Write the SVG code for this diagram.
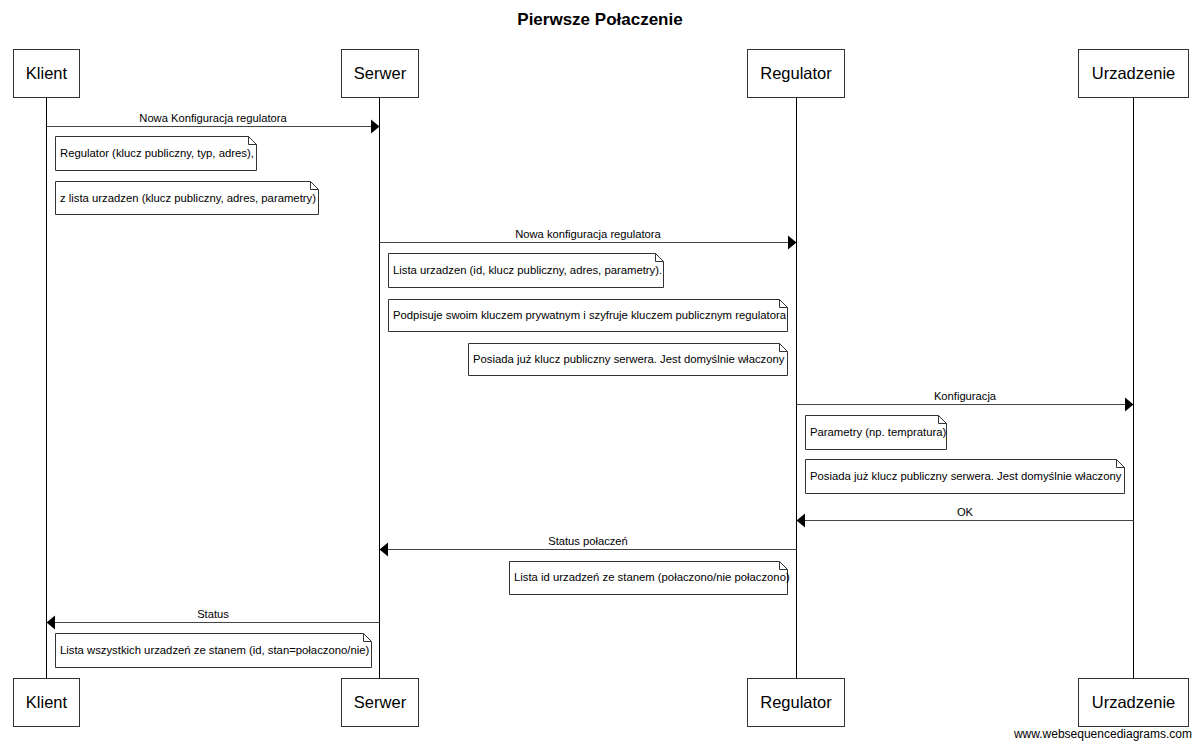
<svg xmlns="http://www.w3.org/2000/svg" width="1200" height="746" viewBox="0 0 1200 746">
<defs>
<style>
.box{fill:#fff;stroke:#333;stroke-width:1}
.pl{font-family:"Liberation Sans",Arial,sans-serif;font-size:16.5px;fill:#000;text-anchor:middle}
.life{stroke:#000;stroke-width:1}
.msg{stroke:#444;stroke-width:1;fill:none}
.ml{font-family:"Liberation Sans",Arial,sans-serif;font-size:11.2px;fill:#000;text-anchor:middle}
.note{fill:#fff;stroke:#333;stroke-width:1}
.nt{font-family:"Liberation Sans",Arial,sans-serif;font-size:11.3px;fill:#000}
.head{fill:#000}
</style>
</defs>
<rect width="1200" height="746" fill="#fff"/>
<text x="600" y="25" font-family="Liberation Sans,Arial,sans-serif" font-size="17" font-weight="bold" text-anchor="middle">Pierwsze Połaczenie</text>

<g id="lifelines">
<line class="life" x1="46.5" y1="98" x2="46.5" y2="678"/>
<line class="life" x1="379.5" y1="98" x2="379.5" y2="678"/>
<line class="life" x1="796.5" y1="98" x2="796.5" y2="678"/>
<line class="life" x1="1133.5" y1="98" x2="1133.5" y2="678"/>
</g>

<g id="Klient">
<rect class="box" x="13.5" y="49.5" width="66" height="48"/>
<text class="pl" x="46.5" y="79">Klient</text>
<rect class="box" x="13.5" y="678.5" width="66" height="48"/>
<text class="pl" x="46.5" y="708">Klient</text>
</g>
<g id="Serwer">
<rect class="box" x="341.5" y="49.5" width="77" height="48"/>
<text class="pl" x="380" y="79">Serwer</text>
<rect class="box" x="341.5" y="678.5" width="77" height="48"/>
<text class="pl" x="380" y="708">Serwer</text>
</g>
<g id="Regulator">
<rect class="box" x="747.5" y="49.5" width="97" height="48"/>
<text class="pl" x="796" y="79">Regulator</text>
<rect class="box" x="747.5" y="678.5" width="97" height="48"/>
<text class="pl" x="796" y="708">Regulator</text>
</g>
<g id="Urzadzenie">
<rect class="box" x="1078.5" y="49.5" width="110" height="48"/>
<text class="pl" x="1133.5" y="79">Urzadzenie</text>
<rect class="box" x="1078.5" y="678.5" width="110" height="48"/>
<text class="pl" x="1133.5" y="708">Urzadzenie</text>
</g>

<g id="connectors">
<line class="msg" x1="46.5" y1="126.5" x2="372" y2="126.5"/>
<polygon class="head" points="371,119.5 379.5,126.5 371,133.5"/>
<text class="ml" x="213" y="122">Nowa Konfiguracja regulatora</text>

<line class="msg" x1="379.5" y1="242.5" x2="789" y2="242.5"/>
<polygon class="head" points="788,235.5 796.5,242.5 788,249.5"/>
<text class="ml" x="588" y="238">Nowa konfiguracja regulatora</text>

<line class="msg" x1="796.5" y1="404.5" x2="1126" y2="404.5"/>
<polygon class="head" points="1125,397.5 1133.5,404.5 1125,411.5"/>
<text class="ml" x="965" y="400">Konfiguracja</text>

<line class="msg" x1="1133.5" y1="520.5" x2="804" y2="520.5"/>
<polygon class="head" points="805,513.5 796.5,520.5 805,527.5"/>
<text class="ml" x="965" y="516">OK</text>

<line class="msg" x1="796.5" y1="549.5" x2="387" y2="549.5"/>
<polygon class="head" points="388,542.5 379.5,549.5 388,556.5"/>
<text class="ml" x="588" y="545">Status połaczeń</text>

<line class="msg" x1="379.5" y1="622.5" x2="54" y2="622.5"/>
<polygon class="head" points="55,615.5 46.5,622.5 55,629.5"/>
<text class="ml" x="213" y="618">Status</text>
</g>

<g id="note1">
<path class="note" d="M55.5,136.5 H248.5 L256.5,144.5 V170.5 H55.5 Z M248.5,136.5 V144.5 H256.5"/>
<text class="nt" x="60" y="157">Regulator (klucz publiczny, typ, adres),</text>
</g>
<g id="note2">
<path class="note" d="M55.5,181.5 H310.5 L318.5,189.5 V214.5 H55.5 Z M310.5,181.5 V189.5 H318.5"/>
<text class="nt" x="60" y="202">z lista urzadzen (klucz publiczny, adres, parametry)</text>
</g>
<g id="note3">
<path class="note" d="M388.5,253.5 H655.5 L663.5,261.5 V287.5 H388.5 Z M655.5,253.5 V261.5 H663.5"/>
<text class="nt" x="393" y="274">Lista urzadzen (id, klucz publiczny, adres, parametry).</text>
</g>
<g id="note4">
<path class="note" d="M388.5,299.5 H779.5 L787.5,307.5 V331.5 H388.5 Z M779.5,299.5 V307.5 H787.5"/>
<text class="nt" x="393" y="319">Podpisuje swoim kluczem prywatnym i szyfruje kluczem publicznym regulatora</text>
</g>
<g id="note5">
<path class="note" d="M468.5,343.5 H779.5 L787.5,351.5 V375.5 H468.5 Z M779.5,343.5 V351.5 H787.5"/>
<text class="nt" x="473" y="363">Posiada już klucz publiczny serwera. Jest domyślnie właczony</text>
</g>
<g id="note6">
<path class="note" d="M805.5,415.5 H938.5 L946.5,423.5 V449.5 H805.5 Z M938.5,415.5 V423.5 H946.5"/>
<text class="nt" x="810" y="436">Parametry (np. tempratura)</text>
</g>
<g id="note7">
<path class="note" d="M805.5,459.5 H1116.5 L1124.5,467.5 V493.5 H805.5 Z M1116.5,459.5 V467.5 H1124.5"/>
<text class="nt" x="810" y="480">Posiada już klucz publiczny serwera. Jest domyślnie właczony</text>
</g>
<g id="note8">
<path class="note" d="M509.5,561.5 H779.5 L787.5,569.5 V594.5 H509.5 Z M779.5,561.5 V569.5 H787.5"/>
<text class="nt" x="514" y="581">Lista id urzadzeń ze stanem (połaczono/nie połaczono)</text>
</g>
<g id="note9">
<path class="note" d="M55.5,633.5 H363.5 L371.5,641.5 V667.5 H55.5 Z M363.5,633.5 V641.5 H371.5"/>
<text class="nt" x="60" y="654">Lista wszystkich urzadzeń ze stanem (id, stan=połaczono/nie)</text>
</g>

<text x="1192" y="738" font-family="Liberation Sans,Arial,sans-serif" font-size="12" text-anchor="end">www.websequencediagrams.com</text>
</svg>
